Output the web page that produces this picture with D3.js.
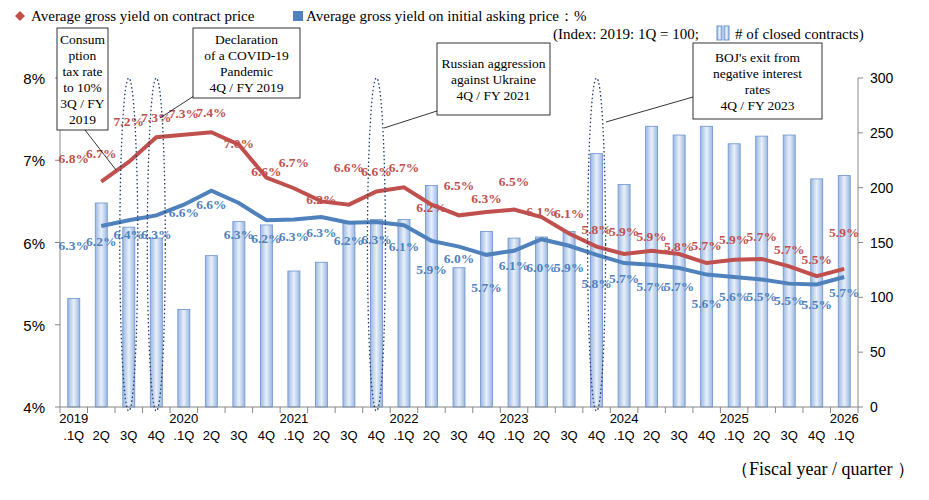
<!DOCTYPE html>
<html><head><meta charset="utf-8">
<script src="https://cdn.jsdelivr.net/npm/d3@7"></script>
<style>body{margin:0;background:#fff}</style>
</head><body>
<svg id="chart" width="929" height="500"></svg>
<script>
const quarters = ["2019\n.1Q","2Q","3Q","4Q","2020\n.1Q","2Q","3Q","4Q","2021\n.1Q","2Q","3Q","4Q","2022\n.1Q","2Q","3Q","4Q",
  "2023\n.1Q","2Q","3Q","4Q","2024\n.1Q","2Q","3Q","4Q","2025\n.1Q","2Q","3Q","4Q","2026\n.1Q"];
const contracts = [99,186,164,154,89,138,169,166,124,132,168,171,171,202,127,160,154,155,160,231,203,256,248,256,240,247,248,208,211];
// lines start at 2019.2Q
const contractYield = [null,6.74,6.98,7.28,7.31,7.34,7.19,6.79,6.66,6.50,6.46,6.62,6.67,6.46,6.33,6.37,6.40,6.31,6.11,5.95,5.86,5.90,5.86,5.75,5.79,5.80,5.71,5.59,5.68];
const askingYield = [null,6.20,6.27,6.33,6.46,6.63,6.48,6.27,6.28,6.31,6.24,6.25,6.21,6.02,5.95,5.85,5.90,6.04,5.96,5.85,5.75,5.73,5.69,5.61,5.58,5.55,5.50,5.49,5.58];
const contractLabels = ["6.8%","6.7%","7.2%","7.3%","7.3%","7.4%","7.0%","6.6%","6.7%","6.2%","6.6%","6.6%","6.7%","6.2%","6.5%","6.3%","6.5%","6.1%","6.1%","5.8%","5.9%","5.9%","5.8%","5.7%","5.9%","5.7%","5.7%","5.5%","5.9%"];
const contractLabelAt = [7.03,7.08,7.47,7.52,7.57,7.58,7.21,6.86,6.97,6.53,6.91,6.86,6.91,6.43,6.70,6.54,6.74,6.38,6.36,6.16,6.14,6.07,5.95,5.97,6.04,6.07,5.92,5.80,6.12];
const askingLabels = ["6.3%","6.2%","6.4%","6.3%","6.6%","6.6%","6.3%","6.2%","6.3%","6.3%","6.2%","6.3%","6.1%","5.9%","6.0%","5.7%","6.1%","6.0%","5.9%","5.8%","5.7%","5.7%","5.7%","5.6%","5.6%","5.5%","5.5%","5.5%","5.7%"];
const askingLabelAt = [5.97,6.01,6.10,6.10,6.37,6.46,6.10,6.05,6.07,6.13,6.03,6.04,5.95,5.68,5.81,5.45,5.72,5.70,5.70,5.51,5.56,5.47,5.47,5.26,5.35,5.35,5.30,5.25,5.40];
const leftTicks = [4,5,6,7,8];
const rightTicks = [0,50,100,150,200,250,300];
const events = [
  {q:2, text:["Consum","ption","tax rate","to 10%","3Q / FY","2019"], box:[57,28,51,102], from:[85,130], to:[116,170]},
  {q:3, text:["Declaration","of a COVID-19","Pandemic","4Q / FY 2019"], box:[193,28,107,70], from:[200,92], to:[160,118]},
  {q:11, text:["Russian aggression","against Ukraine","4Q / FY 2021"], box:[437,43,113,72], from:[440,110], to:[384,128]},
  {q:19, text:["BOJ's exit from","negative interest","rates","4Q / FY 2023"], box:[693,43,129,76], from:[700,95], to:[606,122]}
];

const svg = d3.select("#chart");
const serif = "Liberation Serif, Times New Roman, serif";
const sans = "Liberation Sans, Arial, sans-serif";
const red = "#c0504d", blue = "#4f81bd";

const x = d3.scaleBand().domain(d3.range(quarters.length)).range([60, 858]);
const y = d3.scaleLinear().domain([4, 8]).range([407, 78]);
const yR = d3.scaleLinear().domain([0, 300]).range([407, 78]);

const defs = svg.append("defs");
const grad = defs.append("linearGradient").attr("id", "barGrad");
grad.append("stop").attr("offset", "0%").attr("stop-color", "#9bb7e0");
grad.append("stop").attr("offset", "50%").attr("stop-color", "#e8f0fb");
grad.append("stop").attr("offset", "100%").attr("stop-color", "#9bb7e0");

// bars
svg.selectAll(".bar").data(contracts).join("rect")
  .attr("x", (d, i) => x(i) + x.bandwidth() / 2 - 6)
  .attr("width", 12)
  .attr("y", d => yR(d))
  .attr("height", d => yR(0) - yR(d))
  .attr("fill", "url(#barGrad)").attr("stroke", "#6a93cf").attr("stroke-width", 0.8);

// axes
svg.append("line").attr("x1", 60).attr("x2", 60).attr("y1", 78).attr("y2", 407).attr("stroke", "#888");
svg.append("line").attr("x1", 858).attr("x2", 858).attr("y1", 78).attr("y2", 407).attr("stroke", "#888");
svg.append("line").attr("x1", 60).attr("x2", 858).attr("y1", 407).attr("y2", 407).attr("stroke", "#888");
leftTicks.forEach(t => {
  svg.append("line").attr("x1", 55).attr("x2", 60).attr("y1", y(t)).attr("y2", y(t)).attr("stroke", "#888");
  svg.append("text").attr("x", 45).attr("y", y(t) + 6).attr("text-anchor", "end")
    .attr("font-family", sans).attr("font-size", 15).text(t + "%");
});
rightTicks.forEach(t => {
  svg.append("line").attr("x1", 858).attr("x2", 863).attr("y1", yR(t)).attr("y2", yR(t)).attr("stroke", "#888");
  svg.append("text").attr("x", 870).attr("y", yR(t) + 5)
    .attr("font-family", sans).attr("font-size", 14).text(t);
});
d3.range(quarters.length + 1).forEach(i => {
  const px = 60 + i * x.step();
  svg.append("line").attr("x1", px).attr("x2", px).attr("y1", 407).attr("y2", 413).attr("stroke", "#888");
});
quarters.forEach((q, i) => {
  const parts = q.split("\n");
  const t = svg.append("text").attr("text-anchor", "middle").attr("font-family", sans).attr("font-size", 13);
  if (parts.length === 2) {
    t.append("tspan").attr("x", x(i) + x.bandwidth() / 2).attr("y", 423).text(parts[0]);
    t.append("tspan").attr("x", x(i) + x.bandwidth() / 2).attr("y", 440).text(parts[1]);
  } else {
    t.append("tspan").attr("x", x(i) + x.bandwidth() / 2).attr("y", 440).text(parts[0]);
  }
});

// lines
const line = d3.line().defined(d => d != null)
  .x((d, i) => x(i) + x.bandwidth() / 2).y(d => y(d));
svg.append("path").attr("d", line(askingYield)).attr("fill", "none").attr("stroke", blue).attr("stroke-width", 4);
svg.append("path").attr("d", line(contractYield)).attr("fill", "none").attr("stroke", red).attr("stroke-width", 4);

// data labels
function labels(texts, at, color) {
  svg.selectAll(null).data(texts).join("text")
    .attr("x", (d, i) => x(i) + x.bandwidth() / 2)
    .attr("y", (d, i) => y(at[i]))
    .attr("dy", "0.35em").attr("text-anchor", "middle")
    .attr("font-family", serif).attr("font-weight", "bold").attr("font-size", 13.5)
    .attr("fill", color).text(d => d);
}
labels(askingLabels, askingLabelAt, blue);
labels(contractLabels, contractLabelAt, red);

// event annotations
events.forEach(e => {
  const cx = x(e.q) + x.bandwidth() / 2;
  svg.append("ellipse").attr("cx", cx).attr("cy", (y(8) + y(4)) / 2 + 2)
    .attr("rx", 9).attr("ry", (y(4) - y(8)) / 2 + 2)
    .attr("fill", "none").attr("stroke", "#1f3a6e").attr("stroke-width", 1.3).attr("stroke-dasharray", "1.5,2.5");
  svg.append("line").attr("x1", e.from[0]).attr("y1", e.from[1]).attr("x2", e.to[0]).attr("y2", e.to[1])
    .attr("stroke", "#000").attr("stroke-width", 0.8);
  const [bx, by, bw, bh] = e.box;
  svg.append("rect").attr("x", bx).attr("y", by).attr("width", bw).attr("height", bh)
    .attr("fill", "#fff").attr("stroke", "#000").attr("stroke-width", 0.8);
  const lh = 16;
  const y0 = by + bh / 2 - (e.text.length - 1) * lh / 2;
  e.text.forEach((s, k) => {
    svg.append("text").attr("x", bx + bw / 2).attr("y", y0 + k * lh).attr("dy", "0.35em")
      .attr("text-anchor", "middle").attr("font-family", serif).attr("font-size", 13.5).text(s);
  });
});

// legend
svg.append("path").attr("d", d3.symbol(d3.symbolSquare, 50)()).attr("transform", "translate(20,16) rotate(45)").attr("fill", red);
svg.append("text").attr("x", 31).attr("y", 21).attr("font-family", serif).attr("font-size", 15)
  .text("Average gross yield on contract price");
svg.append("rect").attr("x", 293).attr("y", 11).attr("width", 10).attr("height", 10).attr("fill", blue);
svg.append("text").attr("x", 306).attr("y", 21).attr("font-family", serif).attr("font-size", 15)
  .text("Average gross yield on initial asking price\uff1a%");
svg.append("text").attr("x", 553).attr("y", 39).attr("font-family", serif).attr("font-size", 15)
  .text("(Index: 2019: 1Q = 100;");
svg.append("rect").attr("x", 717).attr("y", 26).attr("width", 5).attr("height", 14).attr("fill", "url(#barGrad)").attr("stroke", "#6a93cf");
svg.append("rect").attr("x", 724).attr("y", 26).attr("width", 5).attr("height", 14).attr("fill", "url(#barGrad)").attr("stroke", "#6a93cf");
svg.append("text").attr("x", 735).attr("y", 39).attr("font-family", serif).attr("font-size", 15)
  .text("# of closed contracts)");
svg.append("text").attr("x", 915).attr("y", 475).attr("text-anchor", "end").attr("font-family", serif).attr("font-size", 18)
  .text("\uff08Fiscal year / quarter \uff09");
</script>
</body></html>
